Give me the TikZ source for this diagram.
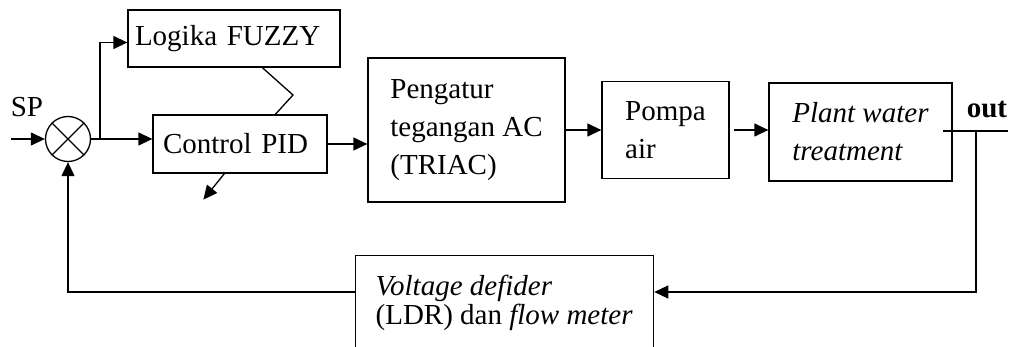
\documentclass[tikz,border=0pt]{standalone}
\usepackage{fontspec}
\setmainfont{Liberation Serif}
\usetikzlibrary{arrows.meta,calc}
\begin{document}
\begin{tikzpicture}[x=1pt,y=-1pt,
  line width=1.3pt,
  box/.style={draw, inner sep=0pt, align=left, font=\fontsize{29}{38}\selectfont},
  arr/.style={-{Triangle[length=14pt,width=13pt]}},
  txt/.style={inner sep=0pt, font=\fontsize{29}{38}\selectfont}]
\useasboundingbox (0,0) rectangle (1016,347);
\fill[white] (0,0) rectangle (1016,347);
\clip (0,0) rectangle (1016,347);

% summing junction
\node[draw, circle, minimum size=45pt, inner sep=0pt] (sum) at (68,139) {};
\draw (sum.north east) -- (sum.south west) (sum.north west) -- (sum.south east);
\node[txt] (sp) at (27,107) {SP};
\coordinate (in) at (11,139);
\draw[arr] (in) -- (sum.west);

% blocks
\node[box, inner xsep=7pt, text width=198pt, minimum height=57pt] (fz) at (234,38.5) {Logika FUZZY};
\node[box, inner xsep=10pt, text width=154pt, minimum height=58pt] (pid) at (240,144) {Control PID};
\node[box, minimum width=197pt, minimum height=144pt] (tr) at (466.5,130) {Pengatur\\tegangan AC\\(TRIAC)};
\node[box, minimum width=127pt, minimum height=97pt] (po) at (665.5,130) {Pompa\\air};
\node[box, minimum width=183pt, minimum height=98pt] (pl) at (860.5,132) {\textit{Plant water}\\\textit{treatment}};
\node[draw, inner xsep=20pt, inner ysep=19pt, anchor=north west, font=\fontsize{29}{29}\selectfont] (vd) at (355,255)
  {\parbox[c][110pt][t]{258pt}{\textit{Voltage defider}\\(LDR) dan \textit{flow meter}}};

% forward path
\coordinate (br) at (100,139);
\draw[arr] (sum.east) -- (sum.east -| pid.west);
\draw[arr] (br) |- ([yshift=-4pt]fz.west);
\draw ([xshift=135pt]fz.south west) -- (293,95) -- ([xshift=123pt]pid.north west);
\draw[arr] ([xshift=72pt]pid.south west) -- ++(-21,26);
\draw[arr] (pid.east) -- (pid.east -| tr.west);
\draw[arr] (tr.east) -- (tr.east -| po.west);
\draw[arr] ([xshift=4pt]po.east) -- (po.east -| pl.west);

% output
\coordinate (oe) at (1008,131);
\draw ([xshift=-10pt]pl.east |- oe) -- (oe);
\node[txt, font=\fontsize{29}{38}\selectfont\bfseries] (out) at (987,110) {out};

% feedback
\coordinate (tap) at (976,131);
\coordinate (fb) at (976,292);
\draw[arr] (tap) -- (fb) -- (fb -| vd.east);
\draw[arr] (vd.west |- fb) -| (sum.south);
\end{tikzpicture}
\end{document}
